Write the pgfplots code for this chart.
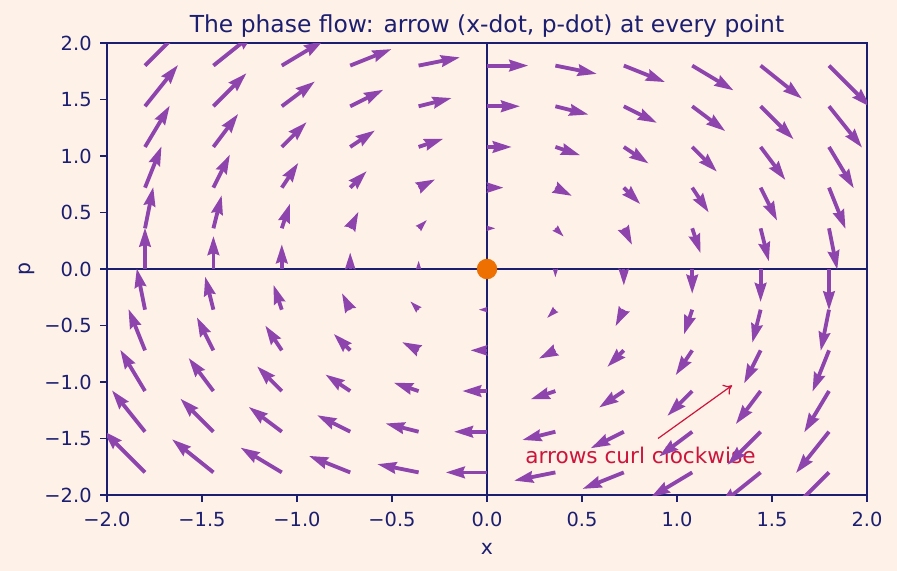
\documentclass[border=0pt]{standalone}
\usepackage{pgfplots}
\pgfplotsset{compat=1.18}
\usepackage{pgfplotstable}
\usepackage{fontspec}
\setmainfont{DejaVu Sans}
\usetikzlibrary{arrows.meta}
\definecolor{bg}{RGB}{254,241,231}
\definecolor{navy}{RGB}{28,30,112}
\definecolor{arrowpurple}{RGB}{142,68,173}
\definecolor{dotorange}{RGB}{238,112,0}
\definecolor{crimson}{RGB}{205,20,60}

% x p u(=x-dot) v(=p-dot)
\pgfplotstableread{
x p u v
-1.8 -1.8 -1.8 1.8
-1.8 -1.44 -1.44 1.8
-1.8 -1.08 -1.08 1.8
-1.8 -0.72 -0.72 1.8
-1.8 -0.36 -0.36 1.8
-1.8 0 0 1.8
-1.8 0.36 0.36 1.8
-1.8 0.72 0.72 1.8
-1.8 1.08 1.08 1.8
-1.8 1.44 1.44 1.8
-1.8 1.8 1.8 1.8
-1.44 -1.8 -1.8 1.44
-1.44 -1.44 -1.44 1.44
-1.44 -1.08 -1.08 1.44
-1.44 -0.72 -0.72 1.44
-1.44 -0.36 -0.36 1.44
-1.44 0 0 1.44
-1.44 0.36 0.36 1.44
-1.44 0.72 0.72 1.44
-1.44 1.08 1.08 1.44
-1.44 1.44 1.44 1.44
-1.44 1.8 1.8 1.44
-1.08 -1.8 -1.8 1.08
-1.08 -1.44 -1.44 1.08
-1.08 -1.08 -1.08 1.08
-1.08 -0.72 -0.72 1.08
-1.08 -0.36 -0.36 1.08
-1.08 0 0 1.08
-1.08 0.36 0.36 1.08
-1.08 0.72 0.72 1.08
-1.08 1.08 1.08 1.08
-1.08 1.44 1.44 1.08
-1.08 1.8 1.8 1.08
-0.72 -1.8 -1.8 0.72
-0.72 -1.44 -1.44 0.72
-0.72 -1.08 -1.08 0.72
-0.72 -0.72 -0.72 0.72
-0.72 -0.36 -0.36 0.72
-0.72 0.36 0.36 0.72
-0.72 0.72 0.72 0.72
-0.72 1.08 1.08 0.72
-0.72 1.44 1.44 0.72
-0.72 1.8 1.8 0.72
-0.36 -1.8 -1.8 0.36
-0.36 -1.44 -1.44 0.36
-0.36 -1.08 -1.08 0.36
-0.36 -0.72 -0.72 0.36
-0.36 0.72 0.72 0.36
-0.36 1.08 1.08 0.36
-0.36 1.44 1.44 0.36
-0.36 1.8 1.8 0.36
0 -1.8 -1.8 0
0 -1.44 -1.44 0
0 -1.08 -1.08 0
0 1.08 1.08 0
0 1.44 1.44 0
0 1.8 1.8 0
0.36 -1.8 -1.8 -0.36
0.36 -1.44 -1.44 -0.36
0.36 -1.08 -1.08 -0.36
0.36 -0.72 -0.72 -0.36
0.36 0.72 0.72 -0.36
0.36 1.08 1.08 -0.36
0.36 1.44 1.44 -0.36
0.36 1.8 1.8 -0.36
0.72 -1.8 -1.8 -0.72
0.72 -1.44 -1.44 -0.72
0.72 -1.08 -1.08 -0.72
0.72 -0.72 -0.72 -0.72
0.72 -0.36 -0.36 -0.72
0.72 0.36 0.36 -0.72
0.72 0.72 0.72 -0.72
0.72 1.08 1.08 -0.72
0.72 1.44 1.44 -0.72
0.72 1.8 1.8 -0.72
1.08 -1.8 -1.8 -1.08
1.08 -1.44 -1.44 -1.08
1.08 -1.08 -1.08 -1.08
1.08 -0.72 -0.72 -1.08
1.08 -0.36 -0.36 -1.08
1.08 0 0 -1.08
1.08 0.36 0.36 -1.08
1.08 0.72 0.72 -1.08
1.08 1.08 1.08 -1.08
1.08 1.44 1.44 -1.08
1.08 1.8 1.8 -1.08
1.44 -1.8 -1.8 -1.44
1.44 -1.44 -1.44 -1.44
1.44 -1.08 -1.08 -1.44
1.44 -0.72 -0.72 -1.44
1.44 -0.36 -0.36 -1.44
1.44 0 0 -1.44
1.44 0.36 0.36 -1.44
1.44 0.72 0.72 -1.44
1.44 1.08 1.08 -1.44
1.44 1.44 1.44 -1.44
1.44 1.8 1.8 -1.44
1.8 -1.8 -1.8 -1.8
1.8 -1.44 -1.44 -1.8
1.8 -1.08 -1.08 -1.8
1.8 -0.72 -0.72 -1.8
1.8 -0.36 -0.36 -1.8
1.8 0 0 -1.8
1.8 0.36 0.36 -1.8
1.8 0.72 0.72 -1.8
1.8 1.08 1.08 -1.8
1.8 1.44 1.44 -1.8
1.8 1.8 1.8 -1.8
}\mainT

\pgfplotstableread{
x p u v
-0.72 0 0 0.72
0.72 0 0 -0.72
0 -0.72 -0.72 0
0 0.72 0.72 0
}\midT

\pgfplotstableread{
x p u v
-0.36 -0.36 -0.36 0.36
-0.36 0.36 0.36 0.36
0.36 -0.36 -0.36 -0.36
0.36 0.36 0.36 -0.36
}\smallT

\pgfplotstableread{
x p u v
-0.36 0 0 0.36
0.36 0 0 -0.36
0 -0.36 -0.36 0
0 0.36 0.36 0
}\tinyT

\begin{document}
\begin{tikzpicture}
\fill[bg] (-53.5pt,-38pt) rectangle (395pt,247.5pt);
\begin{axis}[
  scale only axis,
  width=380pt, height=226pt,
  xmin=-2, xmax=2, ymin=-2, ymax=2,
  axis background/.style={fill=bg},
  axis line style={navy, line width=0.9pt},
  tick style={navy, line width=0.9pt},
  tick align=outside,
  major tick length=3.5pt,
  tick pos=left,
  xtick={-2,-1.5,-1,-0.5,0,0.5,1,1.5,2},
  ytick={-2,-1.5,-1,-0.5,0,0.5,1,1.5,2},
  xticklabels={−2.0,−1.5,−1.0,−0.5,0.0,0.5,1.0,1.5,2.0},
  yticklabels={−2.0,−1.5,−1.0,−0.5,0.0,0.5,1.0,1.5,2.0},
  tick label style={font=\fontsize{9.7}{11}\selectfont, text=navy},
  xticklabel style={anchor=north, inner sep=0pt, yshift=-5pt},
  yticklabel style={anchor=east, inner sep=0pt, xshift=-4pt},
  xlabel={x}, ylabel={p},
  label style={font=\fontsize{10.2}{11}\selectfont, text=navy},
  xlabel style={at={(axis description cs:0.5,0)}, anchor=center, yshift=-27pt},
  ylabel style={at={(axis description cs:-0.1053,0.5)}, anchor=center},
  title={The phase flow: arrow (x-dot, p-dot) at every point},
  title style={font=\fontsize{11.7}{13}\selectfont, text=navy, at={(axis description cs:0.5,1)}, anchor=base, yshift=-1pt},
]
\addplot[navy, line width=0.8pt, forget plot] coordinates {(-2,0) (2,0)};
\addplot[navy, line width=0.8pt, forget plot] coordinates {(0,-2) (0,2)};
\node[anchor=base west, inner sep=0pt, text=crimson, font=\fontsize{10.8}{12}\selectfont] at (axis cs:0.2,-1.72) {arrows curl clockwise};
\draw[crimson, line width=0.6pt, -{To[length=4pt,width=6pt]}] (axis cs:0.9,-1.5) -- (axis cs:1.29,-1.03);
\addplot[arrowpurple, line width=1.9pt, -{Stealth[length=9.5pt,width=5.7pt,inset=0.95pt]},
  quiver={u=\thisrow{u}*0.121, v=\thisrow{v}*0.2035}] table[x=x, y=p] {\mainT};
\addplot[arrowpurple, line width=1.65pt, -{Stealth[length=8.3pt,width=5pt,inset=0.83pt]},
  quiver={u=\thisrow{u}*0.121, v=\thisrow{v}*0.2035}] table[x=x, y=p] {\midT};
\addplot[arrowpurple, line width=1.18pt, -{Stealth[length=5.9pt,width=3.5pt,inset=0.59pt]},
  quiver={u=\thisrow{u}*0.121, v=\thisrow{v}*0.2035}] table[x=x, y=p] {\smallT};
\addplot[arrowpurple, line width=0.84pt, -{Stealth[length=4.2pt,width=2.5pt,inset=0.42pt]},
  quiver={u=\thisrow{u}*0.121, v=\thisrow{v}*0.2035}] table[x=x, y=p] {\tinyT};
\addplot[only marks, mark=*, mark size=4.9pt, draw=dotorange, fill=dotorange] coordinates {(0,0)};
\end{axis}
\pgfresetboundingbox
\path[use as bounding box] (-53.5pt,-38pt) rectangle (395pt,247.5pt);
\end{tikzpicture}
\end{document}
